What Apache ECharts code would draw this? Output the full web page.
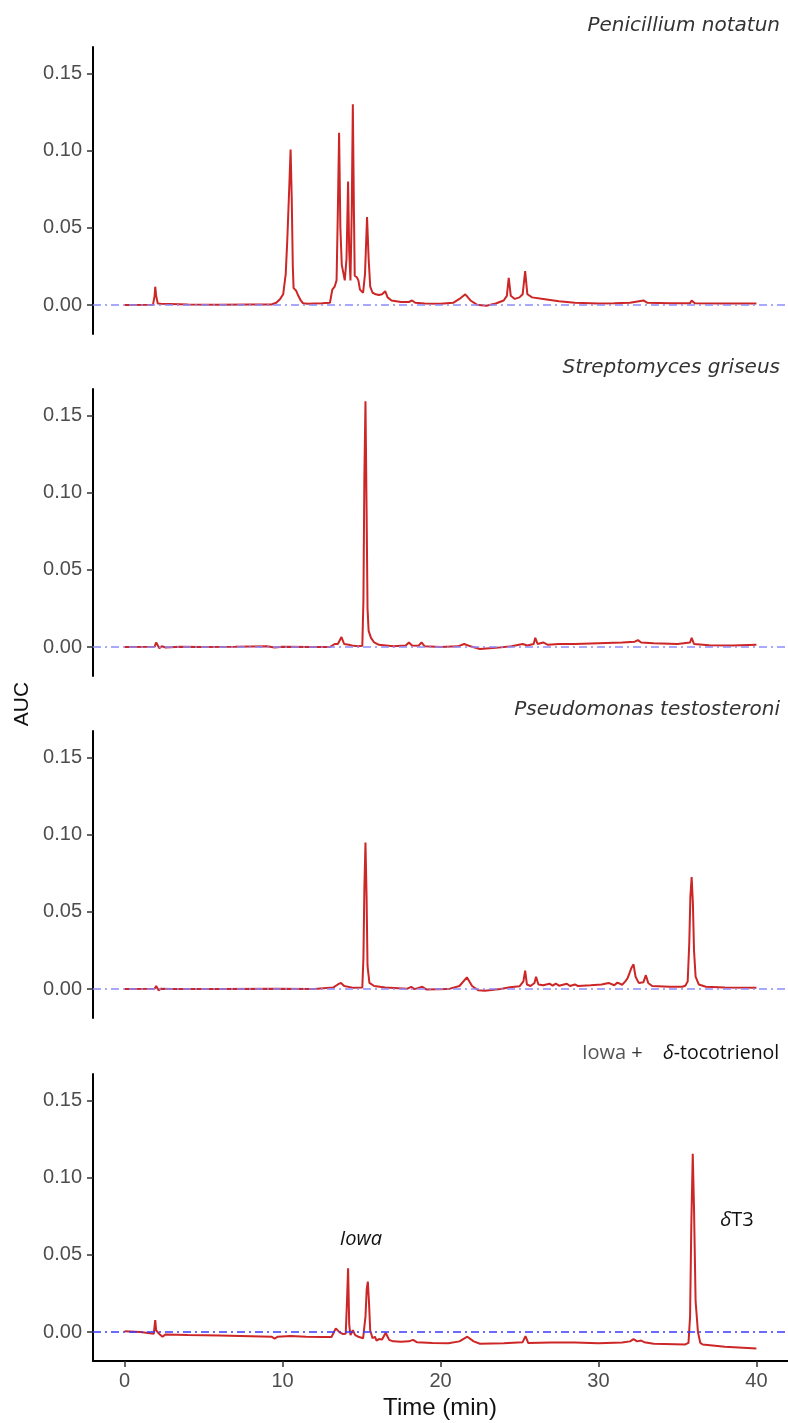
<!DOCTYPE html>
<html>
<head>
<meta charset="utf-8">
<script src="https://cdn.jsdelivr.net/npm/echarts@6/dist/echarts.min.js"></script>
<style>
  html, body { margin: 0; padding: 0; background: #fff; }
  #main { width: 788px; height: 1423px; }
</style>
</head>
<body>
<div id="main"></div>
<script>
var myChart = echarts.init(document.getElementById('main'));

// panel labels (top to bottom)
var panelNames = ['Penicillium notatun', 'Streptomyces griseus', 'Pseudomonas testosteroni', 'Iowa + δ-tocotrienol'];
var yTicks = [0, 0.05, 0.10, 0.15];
var xTicks = [0, 10, 20, 30, 40];

// chromatograms: [time (min), AUC]
var penicillium = [
    [0, 0], [1.8, 0.0003], [1.9, 0.006], [1.94, 0.0119], [2.0, 0.006], [2.1, 0.001], [2.3, 0.0008],
    [4, 0.0004], [6, 0.0003], [8, 0.0004], [9.3, 0.0004], [9.6, 0.0015], [9.85, 0.004], [10.04, 0.007],
    [10.2, 0.02], [10.3, 0.042], [10.42, 0.075], [10.51, 0.1007], [10.58, 0.07], [10.65, 0.025],
    [10.7, 0.011], [10.85, 0.0095], [11.0, 0.006], [11.15, 0.003], [11.3, 0.0012], [11.6, 0.0008],
    [12.5, 0.0012], [13.0, 0.0015], [13.15, 0.01], [13.3, 0.012], [13.42, 0.016], [13.5, 0.06],
    [13.58, 0.1115], [13.66, 0.05], [13.75, 0.026], [13.85, 0.025], [13.94, 0.016], [14.05, 0.03],
    [14.15, 0.080], [14.22, 0.035], [14.3, 0.016], [14.38, 0.06], [14.45, 0.130], [14.52, 0.06],
    [14.57, 0.019], [14.7, 0.018], [14.8, 0.016], [14.9, 0.010], [15.1, 0.008], [15.22, 0.02],
    [15.35, 0.057], [15.45, 0.03], [15.55, 0.012], [15.7, 0.008], [15.9, 0.007], [16.1, 0.0065],
    [16.3, 0.007], [16.5, 0.009], [16.65, 0.005], [16.9, 0.003], [17.5, 0.002], [18.0, 0.002],
    [18.2, 0.003], [18.4, 0.0015], [19, 0.001], [20, 0.0008], [20.8, 0.0015], [21.2, 0.004],
    [21.57, 0.007], [21.9, 0.003], [22.3, 0.0003], [22.9, -0.0004], [23.5, 0.001], [24.0, 0.003],
    [24.2, 0.006], [24.32, 0.0177], [24.45, 0.006], [24.7, 0.004], [25.0, 0.005], [25.2, 0.007],
    [25.36, 0.022], [25.5, 0.007], [25.8, 0.005], [26.5, 0.004], [27.5, 0.0025], [28.5, 0.0015],
    [30, 0.001], [31, 0.0012], [32, 0.0015], [32.85, 0.003], [33.1, 0.0015], [34.5, 0.0012],
    [35.8, 0.0012], [35.9, 0.003], [36.1, 0.0012], [38, 0.001], [40, 0.001]
];

var streptomyces = [
    [0, 0], [1.9, 0.0002], [2.0, 0.003], [2.05, 0.004], [2.12, 0.002], [2.2, -0.0008], [2.35, 0.0005],
    [2.6, -0.0003], [3.5, 0.0003], [5, 0], [7, 0.0002], [9, 0.0005], [9.5, -0.0003], [10, 0.0002],
    [12, 0.0001], [13.0, 0], [13.3, 0.002], [13.5, 0.002], [13.73, 0.0065], [13.9, 0.002],
    [14.2, 0.0015], [14.5, 0.0008], [14.8, 0.0005], [15.05, 0.0008], [15.12, 0.03], [15.18, 0.11],
    [15.25, 0.159], [15.32, 0.09], [15.38, 0.025], [15.45, 0.0105], [15.6, 0.006], [15.8, 0.003],
    [16.1, 0.0015], [17.0, 0.0005], [17.8, 0.001], [18.0, 0.003], [18.2, 0.001], [18.6, 0.0008],
    [18.8, 0.003], [19.0, 0.0005], [20, 0], [21.1, 0.0005], [21.5, 0.002], [21.9, 0.0005],
    [22.5, -0.0012], [23.5, -0.0005], [24.5, 0.0005], [25.2, 0.002], [25.5, 0.001], [25.9, 0.002],
    [26.0, 0.006], [26.15, 0.002], [26.5, 0.003], [26.8, 0.0015], [27.5, 0.002], [28.5, 0.002],
    [30, 0.0025], [31.5, 0.003], [32.3, 0.0035], [32.5, 0.0045], [32.7, 0.003], [33.5, 0.0025],
    [35, 0.002], [35.8, 0.003], [35.9, 0.006], [36.05, 0.002], [37, 0.0012], [38.5, 0.001], [40, 0.0015]
];

var pseudomonas = [
    [0, 0], [1.9, 0.0002], [2.0, 0.002], [2.05, 0.0015], [2.15, -0.0008], [2.3, 0.0003], [3, 0],
    [6, 0], [9.5, 0.0003], [12, 0], [13.2, 0.001], [13.5, 0.003], [13.7, 0.004], [13.9, 0.002],
    [14.5, 0.0008], [15.05, 0.001], [15.12, 0.02], [15.18, 0.065], [15.25, 0.0948], [15.32, 0.06],
    [15.38, 0.015], [15.5, 0.004], [15.8, 0.002], [16.5, 0.001], [17.9, 0.0003], [18.15, 0.0015],
    [18.35, 0], [18.85, 0.0015], [19.1, -0.0002], [20.5, 0], [21.2, 0.002], [21.67, 0.0076],
    [22.0, 0.002], [22.4, -0.0008], [22.8, -0.001], [23.8, 0], [24.4, 0.0012], [25.0, 0.0018],
    [25.25, 0.005], [25.36, 0.012], [25.47, 0.003], [25.7, 0.002], [25.95, 0.004], [26.05, 0.008],
    [26.2, 0.003], [26.5, 0.0025], [26.9, 0.0035], [27.1, 0.0022], [27.3, 0.0035], [27.5, 0.0022],
    [28.0, 0.0035], [28.2, 0.002], [28.5, 0.003], [28.7, 0.002], [29.5, 0.0025], [30.2, 0.003],
    [30.64, 0.004], [31.0, 0.0025], [31.2, 0.0042], [31.5, 0.0028], [31.7, 0.005], [31.84, 0.007],
    [31.95, 0.006], [32.1, 0.014], [32.22, 0.016], [32.35, 0.008], [32.55, 0.004], [32.85, 0.0045],
    [33.0, 0.009], [33.15, 0.004], [33.4, 0.002], [34.5, 0.0015], [35.3, 0.0015], [35.5, 0.0022],
    [35.65, 0.005], [35.75, 0.03], [35.82, 0.06], [35.9, 0.0725], [35.98, 0.055], [36.05, 0.025],
    [36.15, 0.008], [36.35, 0.003], [36.8, 0.0015], [38, 0.001], [40, 0.0008]
];

var iowaDT3 = [
    [0, 0.0006], [1.0, 0], [1.85, -0.001], [1.92, 0.006], [1.94, 0.0078], [2.0, 0.001], [2.2, -0.0012],
    [2.4, -0.003], [2.6, -0.0015], [4, -0.0018], [6, -0.0022], [8, -0.0027], [9.3, -0.003],
    [9.5, -0.0042], [9.7, -0.003], [10.5, -0.0025], [11.5, -0.003], [12.5, -0.0032], [13.1, -0.0032],
    [13.37, 0.0024], [13.6, 0], [13.8, -0.0012], [14.0, -0.001], [14.08, 0.02], [14.15, 0.0413],
    [14.22, 0.005], [14.3, -0.002], [14.45, 0.0012], [14.6, -0.002], [14.8, -0.003], [15.1, -0.004],
    [15.25, 0.01], [15.33, 0.028], [15.4, 0.0327], [15.47, 0.02], [15.55, 0.001], [15.7, -0.004],
    [15.85, -0.003], [15.95, -0.0055], [16.1, -0.0045], [16.3, -0.0048], [16.53, -0.0004],
    [16.75, -0.005], [17.0, -0.006], [17.5, -0.0063], [18.0, -0.006], [18.26, -0.005], [18.5, -0.0065],
    [19.5, -0.007], [20.5, -0.0072], [21.2, -0.006], [21.7, -0.003], [22.1, -0.006], [22.5, -0.0075],
    [24, -0.0072], [25.2, -0.0065], [25.38, -0.0026], [25.55, -0.007], [27, -0.0068], [28.5, -0.0068],
    [30, -0.0072], [31.5, -0.0068], [32.0, -0.006], [32.22, -0.0045], [32.45, -0.006], [32.7, -0.0055],
    [32.9, -0.0065], [33.5, -0.0075], [35.5, -0.008], [35.7, -0.007], [35.8, 0.01], [35.88, 0.07],
    [35.97, 0.1154], [36.05, 0.08], [36.15, 0.02], [36.3, 0], [36.45, -0.007], [36.6, -0.008],
    [38, -0.0095], [40, -0.0106]
];

var allSeries = [penicillium, streptomyces, pseudomonas, iowaDT3];

var gridTops = [47, 389, 731, 1074];
var gridHeight = 287;

var grids = [], xAxes = [], yAxes = [], series = [];
gridTops.forEach(function (top, i) {
    var last = i === gridTops.length - 1;
    grids.push({ left: 93, right: 0, top: top, height: gridHeight });
    xAxes.push({
        gridIndex: i,
        type: 'value',
        min: -2,
        max: 42,
        show: last,
        axisLine: { onZero: false, lineStyle: { color: '#000', width: 2 } },
        axisTick: { customValues: xTicks, length: 6, lineStyle: { color: '#333', width: 1.5 } },
        axisLabel: { customValues: xTicks, margin: 10, color: '#4d4d4d', fontSize: 20, fontFamily: 'Liberation Sans' },
        splitLine: { show: false }
    });
    yAxes.push({
        gridIndex: i,
        type: 'value',
        min: -0.0187,
        max: 0.167,
        axisLine: { show: true, onZero: false, lineStyle: { color: '#000', width: 2 } },
        axisTick: { show: true, customValues: yTicks, length: 6, lineStyle: { color: '#333', width: 1.5 } },
        axisLabel: {
            customValues: yTicks,
            margin: 11,
            color: '#4d4d4d',
            fontSize: 20,
            fontFamily: 'Liberation Sans',
            formatter: function (v) { return v.toFixed(2); }
        },
        splitLine: { show: false }
    });
    series.push({
        type: 'line',
        xAxisIndex: i,
        yAxisIndex: i,
        data: allSeries[i],
        showSymbol: false,
        lineStyle: { color: '#cd2626', width: 2 },
        markLine: {
            silent: true,
            symbol: 'none',
            label: { show: false },
            lineStyle: {
                color: last ? '#3a3aff' : '#8c8cff',
                width: 1.5,
                opacity: 1,
                type: [8, 4, 2, 4]
            },
            data: [{ yAxis: 0 }]
        },
        z: 3
    });
});

var titleFont = 'italic 20px "DejaVu Sans"';
var graphics = [];
[0, 1, 2].forEach(function (i) {
    graphics.push({
        type: 'text',
        x: 780,
        y: gridTops[i] - 21,
        style: { text: panelNames[i], font: titleFont, fill: '#333', align: 'right', verticalAlign: 'middle' }
    });
});
// bottom panel label, pieces placed apart as in the original
graphics.push({
    type: 'text', x: 582, y: 1053,
    style: { text: 'Iowa', font: '20px "Open Sans"', fill: '#555', align: 'left', verticalAlign: 'middle' }
});
graphics.push({
    type: 'text', x: 637, y: 1053,
    style: { text: '+', font: '20px "Open Sans"', fill: '#333', align: 'center', verticalAlign: 'middle' }
});
graphics.push({
    type: 'text', x: 663, y: 1053,
    style: {
        text: '{d|δ}{k|-tocotrienol}',
        align: 'left',
        verticalAlign: 'middle',
        rich: {
            k: { fill: '#111', fontSize: 19.5, fontFamily: 'Open Sans' },
            d: { fill: '#111', fontSize: 19.5, fontFamily: 'Open Sans', fontStyle: 'italic' }
        }
    }
});
graphics.push({
    type: 'text', x: 361, y: 1239,
    style: { text: 'Iowa', font: 'italic 20px "Open Sans"', fill: '#111', align: 'center', verticalAlign: 'middle' }
});
graphics.push({
    type: 'text', x: 737, y: 1220,
    style: {
        text: '{d|δ}{k|T3}', align: 'center', verticalAlign: 'middle',
        rich: {
            d: { fill: '#111', fontSize: 20, fontFamily: 'Open Sans', fontStyle: 'italic' },
            k: { fill: '#111', fontSize: 20, fontFamily: 'Open Sans' }
        }
    }
});
graphics.push({
    type: 'text', x: 22, y: 704, rotation: Math.PI / 2,
    style: { text: 'AUC', font: '21px "Liberation Sans"', fill: '#111', align: 'center', verticalAlign: 'middle' }
});
graphics.push({
    type: 'text', x: 440, y: 1408,
    style: { text: 'Time (min)', font: '24px "Liberation Sans"', fill: '#111', align: 'center', verticalAlign: 'middle' }
});

var option = {
    backgroundColor: '#fff',
    animation: false,
    grid: grids,
    xAxis: xAxes,
    yAxis: yAxes,
    series: series,
    graphic: graphics
};

myChart.setOption(option);
</script>
</body>
</html>
